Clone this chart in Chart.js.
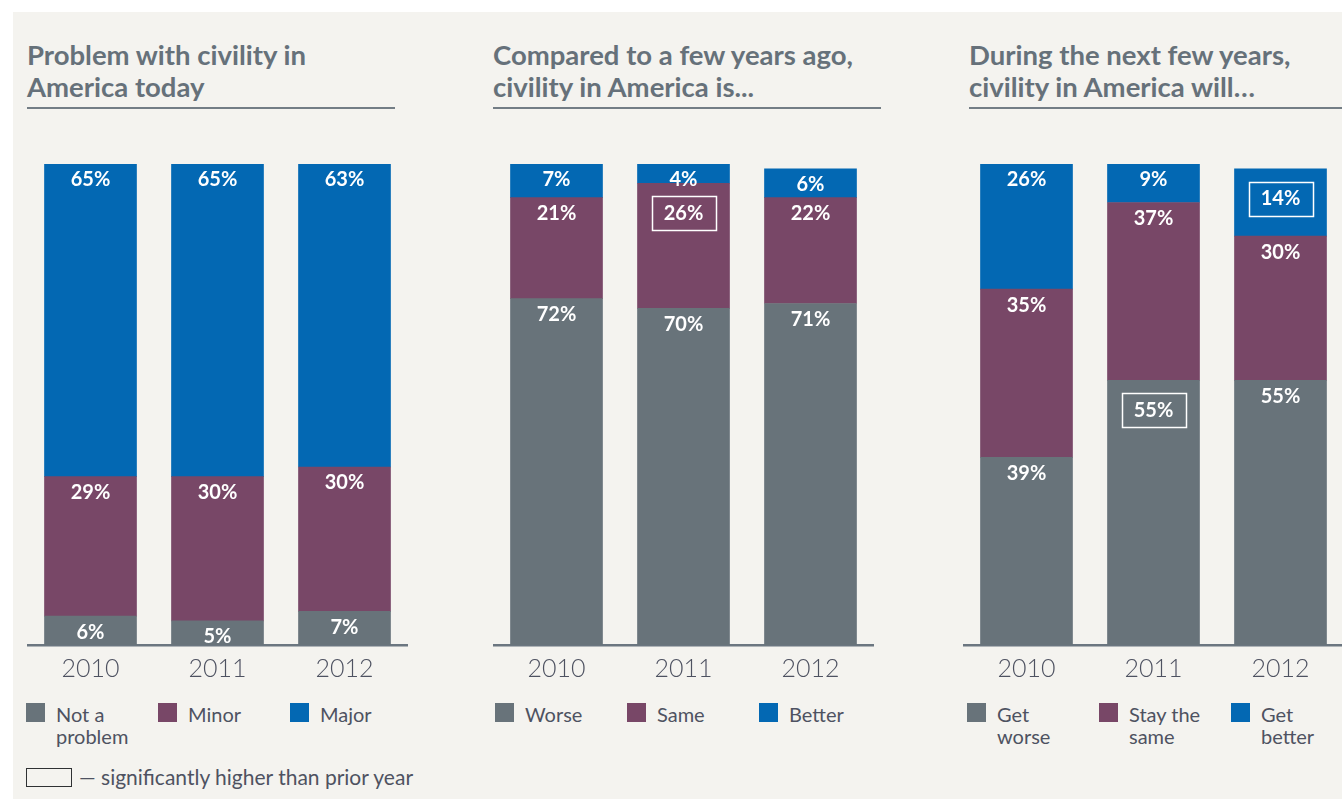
<!DOCTYPE html>
<html>
<head>
<meta charset="utf-8">
<script src="https://cdn.jsdelivr.net/npm/chart.js@4.4.0/dist/chart.umd.min.js"></script>
<style>
  html, body { margin: 0; padding: 0; }
  body { width: 1342px; height: 799px; background: #fff; position: relative; overflow: hidden;
         font-family: Lato, "Noto Sans", sans-serif; }
  #paper { position: absolute; left: 13px; top: 12px; right: 0; bottom: 0; background: #f4f3ef; }
  .title { position: absolute; top: 39px; font-size: 27.5px; line-height: 32px; font-weight: 700;
           color: #66717a; white-space: nowrap; }
  .rule { position: absolute; top: 107px; height: 2px; background: #737d85; }
  .plot { position: absolute; top: 150px; width: 381px; height: 535px; }
  .key { position: absolute; top: 703px; font-size: 20px; line-height: 22px; font-weight: 400; color: #4e5261; }
  .key i { position: absolute; left: -30px; top: 0; width: 19px; height: 19px; }
  .note { position: absolute; left: 26px; top: 768px; width: 44px; height: 17px; border: 1.5px solid #2f3133; }
  .note-text { position: absolute; left: 79px; top: 765px; font-size: 21px; line-height: 24px; font-weight: 400;
               color: #4e5261; white-space: nowrap; }
</style>
</head>
<body>
<div id="paper"></div>

<div class="title" style="left:27px">Problem with civility in<br>America today</div>
<div class="rule" style="left:27px;width:368px"></div>
<div class="title" style="left:493px">Compared to a few years ago,<br>civility in America is...</div>
<div class="rule" style="left:493px;width:388px"></div>
<div class="title" style="left:969px">During the next few years,<br>civility in America will…</div>
<div class="rule" style="left:969px;width:373px"></div>

<div class="plot" style="left:26.5px"><canvas id="problem" width="381" height="535"></canvas></div>
<div class="plot" style="left:492.5px"><canvas id="past" width="381" height="535"></canvas></div>
<div class="plot" style="left:962.5px"><canvas id="future" width="381" height="535"></canvas></div>

<div id="legends"></div>

<div class="note"></div>
<div class="note-text">— significantly higher than prior year</div>

<script>
const years = ['2010', '2011', '2012'];

// Problem with civility in America today
const problemNot = [6, 5, 7];
const problemMinor = [29, 30, 30];
const problemMajor = [65, 65, 63];

// Compared to a few years ago
const pastWorse = [72, 70, 71];
const pastSame = [21, 26, 22];
const pastBetter = [7, 4, 6];
const pastSameUp = [false, true, false];

// During the next few years
const futureWorse = [39, 55, 55];
const futureSame = [35, 37, 30];
const futureBetter = [26, 9, 14];
const futureWorseUp = [false, true, false];
const futureBetterUp = [false, false, true];

const GRAY = '#68737a';
const PLUM = '#784767';
const BLUE = '#0368b3';
const FONT = 'Lato, "Noto Sans", sans-serif';

// white % labels at the top of each segment; boxed when significantly higher
const valueLabels = {
    id: 'valueLabels',
    afterDatasetsDraw(chart) {
        const { ctx, chartArea } = chart;
        ctx.save();
        ctx.font = 'bold 20px ' + FONT;
        ctx.fillStyle = '#fff';
        ctx.strokeStyle = '#fff';
        ctx.lineWidth = 1.5;
        ctx.textAlign = 'center';
        ctx.textBaseline = 'middle';
        chart.data.datasets.forEach((ds, di) => {
            chart.getDatasetMeta(di).data.forEach((bar, i) => {
                const top = Math.max(Math.min(bar.y, bar.base), chartArea.top);
                const boxed = ds.boxed && ds.boxed[i];
                const y = top + (boxed ? 30 : 16);
                ctx.fillText(ds.data[i] + '%', bar.x, y);
                if (boxed) ctx.strokeRect(Math.round(bar.x - 32) + 0.5, Math.round(y - 17) + 0.5, 64, 34);
            });
        });
        ctx.restore();
    }
};

function stackChart(id, series) {
    return new Chart(document.getElementById(id), {
        type: 'bar',
        data: {
            labels: years,
            datasets: series.map(s => ({
                data: s.data,
                boxed: s.boxed,
                backgroundColor: s.color,
                borderWidth: 0,
                barThickness: 92
            }))
        },
        options: {
            responsive: false,
            animation: false,
            layout: { padding: { top: 14, left: 0, right: 0, bottom: 0 } },
            plugins: { legend: { display: false }, tooltip: { enabled: false } },
            scales: {
                x: {
                    stacked: true,
                    grid: { display: false, drawTicks: false },
                    border: { display: true, color: '#6b7680', width: 2.5 },
                    ticks: { color: '#4e5261', padding: 9, font: { family: FONT, size: 25, weight: 300 } },
                    afterFit(scale) { scale.height = 40; }
                },
                y: { stacked: true, display: false, min: 0, max: 100 }
            }
        },
        plugins: [valueLabels]
    });
}

stackChart('problem', [
    { data: problemNot, color: GRAY },
    { data: problemMinor, color: PLUM },
    { data: problemMajor, color: BLUE }
]);
stackChart('past', [
    { data: pastWorse, color: GRAY },
    { data: pastSame, color: PLUM, boxed: pastSameUp },
    { data: pastBetter, color: BLUE }
]);
stackChart('future', [
    { data: futureWorse, color: GRAY, boxed: futureWorseUp },
    { data: futureSame, color: PLUM },
    { data: futureBetter, color: BLUE, boxed: futureBetterUp }
]);

// legend rows under each panel
const legendSets = [
    { left: 56, items: ['Not a<br>problem', 'Minor', 'Major'] },
    { left: 525, items: ['Worse', 'Same', 'Better'] },
    { left: 997, items: ['Get<br>worse', 'Stay the<br>same', 'Get<br>better'] }
];
const legendColors = [GRAY, PLUM, BLUE];
const holder = document.getElementById('legends');
legendSets.forEach(set => {
    set.items.forEach((txt, i) => {
        const el = document.createElement('div');
        el.className = 'key';
        el.style.left = (set.left + i * 132) + 'px';
        el.innerHTML = `<i style="background:${legendColors[i]}"></i>${txt}`;
        holder.appendChild(el);
    });
});
</script>
</body>
</html>
